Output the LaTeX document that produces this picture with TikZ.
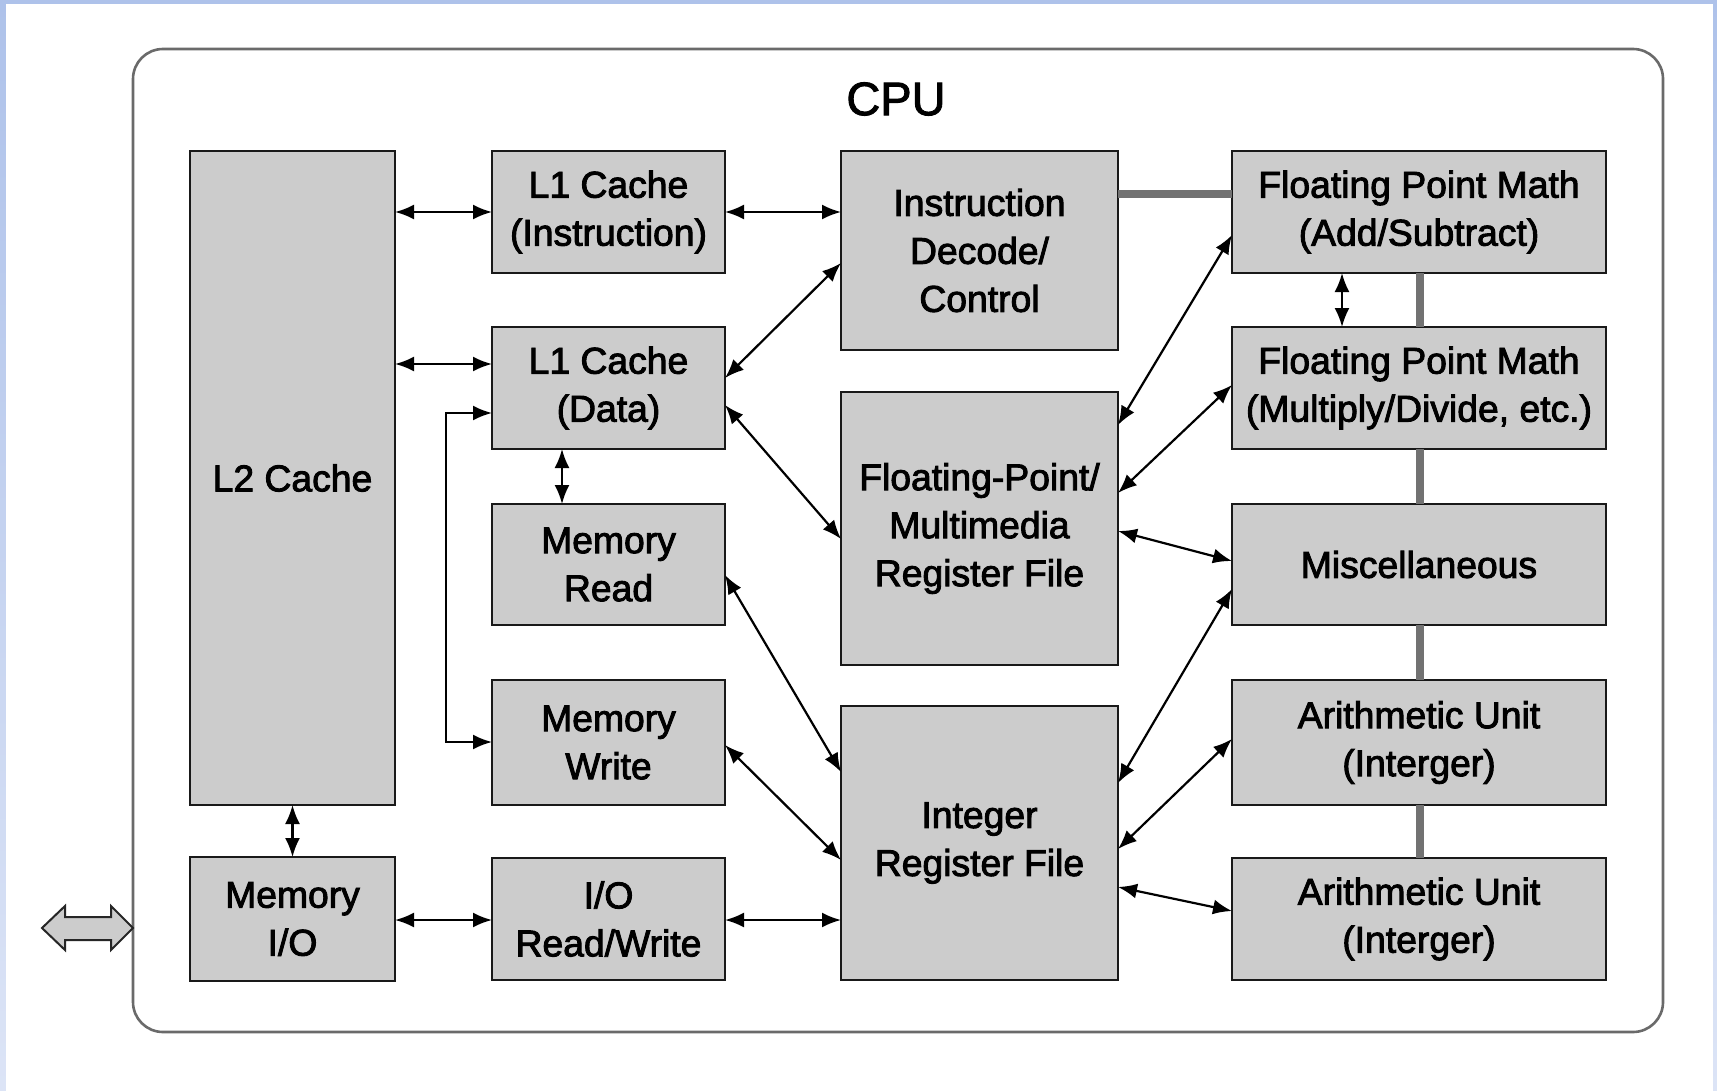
\documentclass[tikz,border=0pt]{standalone}
\usepackage{fontspec}
\newfontfamily\lblfont{Liberation Sans}
\usetikzlibrary{arrows.meta}
\definecolor{boxgray}{HTML}{CCCCCC}
\definecolor{busgray}{HTML}{727272}
\definecolor{framegray}{HTML}{6A6A6A}
\definecolor{edgetop}{HTML}{AEC2EA}
\definecolor{edgebot}{HTML}{DCE4F6}
% heavier strokes for the labels (fill + stroke text rendering)
\newcommand\heavytext{\special{pdf:literal direct 2 Tr 0.45 w}}
\begin{document}
\begin{tikzpicture}[x=0.5pt,y=-0.5pt,
  unit/.style={draw=black!90, line width=1.4pt, fill=boxgray, inner sep=0pt,
    outer sep=0pt, align=center, text=black,
    font=\lblfont\fontsize{18.65pt}{24pt}\selectfont\heavytext},
  wa/.style={minimum width=102.5pt},
  wb/.style={minimum width=116.5pt},
  wc/.style={minimum width=138.5pt},
  wd/.style={minimum width=187pt},
  link/.style={{Latex[length=9.5pt,width=7.5pt]}-{Latex[length=9.5pt,width=7.5pt]},
    line width=1.1pt, draw=black},
  bus/.style={line width=4pt, draw=busgray},
  title/.style={font=\lblfont\fontsize{23.5pt}{28pt}\selectfont\heavytext, inner sep=0pt}]

% page background with the thin blue edge
\useasboundingbox (0,0) rectangle (1717,1091);
\shade[top color=edgetop, bottom color=edgebot] (0,0) rectangle (1717,1091);
\fill[white] (6,4) rectangle (1713,1091);

% CPU enclosure
\draw[framegray, line width=1.3pt, rounded corners=15pt] (133,49) rectangle (1663,1032);
\node[title] (cpu) at (896,99) {CPU};

% external interface arrow
\draw[fill=boxgray, draw=black!85, line width=1pt, line join=miter]
  (42,928) -- (65,906) -- (65,917) -- (111,917) -- (111,906) -- (133,928)
  -- (111,950) -- (111,940) -- (65,940) -- (65,950) -- cycle;

% cache column
\node[unit, wa, minimum height=327pt] (l2) at (292.5,478) {L2 Cache};
\node[unit, wa, minimum height=62pt] (mio) at (292.5,919) {Memory\\I/O};

% load/store column
\node[unit, wb, minimum height=61pt] (l1i) at (608.5,212) {L1 Cache\\(Instruction)};
\node[unit, wb, minimum height=61pt] (l1d) at (608.5,388) {L1 Cache\\(Data)};
\node[unit, wb, minimum height=60.5pt] (mrd) at (608.5,564.5) {Memory\\Read};
\node[unit, wb, minimum height=62.5pt] (mwr) at (608.5,742.5) {Memory\\Write};
\node[unit, wb, minimum height=61pt] (iorw) at (608.5,919) {I/O\\Read/Write};

% control and register files
\node[unit, wc, minimum height=99.5pt] (idc) at (979.5,250.5) {Instruction\\Decode/\\Control};
\node[unit, wc, minimum height=136.5pt] (fpr) at (979.5,528.5) {Floating-Point/\\Multimedia\\Register File};
\node[unit, wc, minimum height=137pt] (irf) at (979.5,843) {Integer\\Register File};

% execution units
\node[unit, wd, minimum height=61pt] (fpa) at (1419,212) {Floating Point Math\\(Add/Subtract)};
\node[unit, wd, minimum height=61pt] (fpm) at (1419,388) {Floating Point Math\\(Multiply/Divide, etc.)};
\node[unit, wd, minimum height=60.5pt] (misc) at (1419,564.5) {Miscellaneous};
\node[unit, wd, minimum height=62.5pt] (au1) at (1419,742.5) {Arithmetic Unit\\(Interger)};
\node[unit, wd, minimum height=61pt] (au2) at (1419,919) {Arithmetic Unit\\(Interger)};

% control bus
\draw[bus] (idc.east |- 0,194) -- (fpa.west |- 0,194);
\draw[bus] (fpa.south -| 1420,0) -- (fpm.north -| 1420,0);
\draw[bus] (fpm.south -| 1420,0) -- (misc.north -| 1420,0);
\draw[bus] (misc.south -| 1420,0) -- (au1.north -| 1420,0);
\draw[bus] (au1.south -| 1420,0) -- (au2.north -| 1420,0);

% data paths
\draw[link] (l2.east |- 0,212) -- (l1i.west |- 0,212);
\draw[link] (l2.east |- 0,364) -- (l1d.west |- 0,364);
\draw[link] (l1i.east |- 0,212) -- (idc.west |- 0,212);
\draw[link] (l1d.east |- 0,378) -- (idc.west |- 0,263);
\draw[link] (l1d.east |- 0,405) -- (fpr.west |- 0,539);
\draw[link] (l1d.west |- 0,413) -- (446,413) -- (446,742) -- (mwr.west |- 0,742);
\draw[link] (l1d.south -| 562,0) -- (mrd.north -| 562,0);
\draw[link] (mrd.east |- 0,575) -- (irf.west |- 0,772);
\draw[link] (mwr.east |- 0,745) -- (irf.west |- 0,860);
\draw[link] (iorw.east |- 0,920) -- (irf.west |- 0,920);
\draw[link] (mio.east |- 0,920) -- (iorw.west |- 0,920);
\draw[link] (l2.south) -- (mio.north);
\draw[link] (fpr.east |- 0,425) -- (fpa.west |- 0,235);
\draw[link] (fpr.east |- 0,493) -- (fpm.west |- 0,385);
\draw[link] (fpr.east |- 0,531) -- (misc.west |- 0,561);
\draw[link] (irf.east |- 0,783) -- (misc.west |- 0,589);
\draw[link] (irf.east |- 0,849) -- (au1.west |- 0,739);
\draw[link] (irf.east |- 0,887) -- (au2.west |- 0,911);
\draw[link] (fpa.south -| 1342,0) -- (fpm.north -| 1342,0);
\end{tikzpicture}
\end{document}
